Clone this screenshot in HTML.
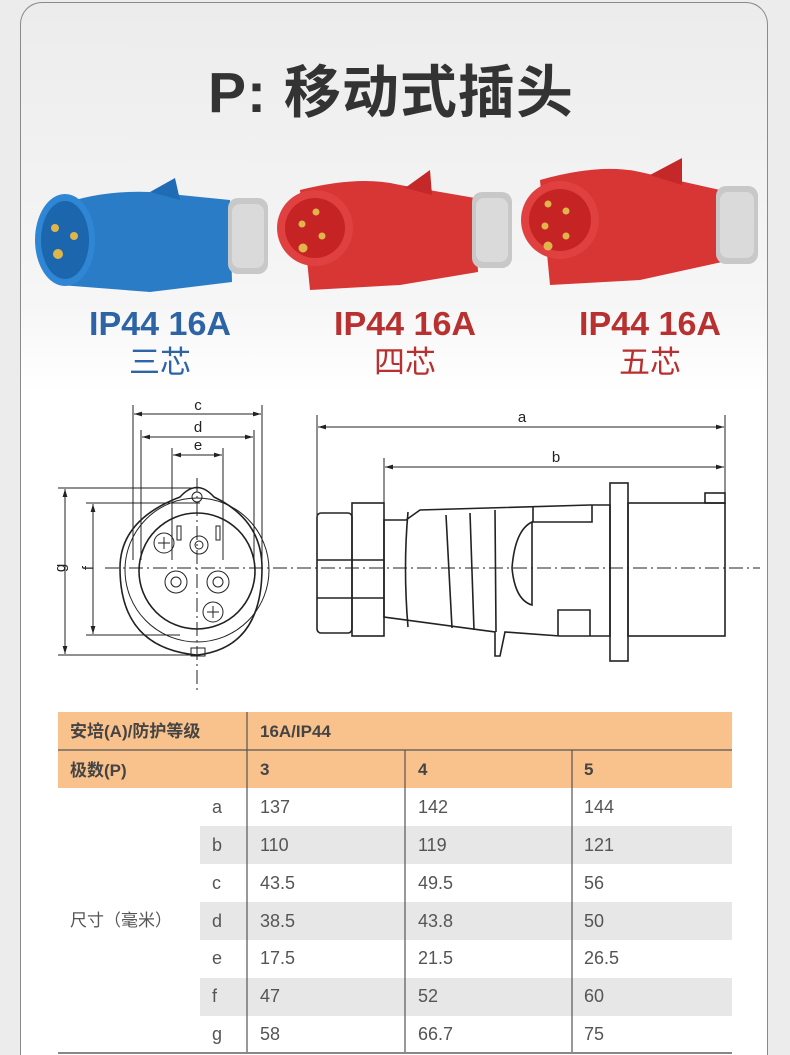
<!DOCTYPE html>
<html><head><meta charset="utf-8"><style>
html,body{margin:0;padding:0;background:#ececec;height:1055px;overflow:hidden;}
body{width:790px;height:1055px;position:relative;overflow:hidden;font-family:"Liberation Sans","Noto Sans CJK SC",sans-serif;}
.card{position:absolute;left:20px;top:2px;width:748px;height:1053px;border:1.5px solid #8a8a8a;border-bottom:none;border-radius:22px 22px 0 0;background:linear-gradient(#ececec 0px,#f6f6f6 300px,#fff 390px,#fff);box-sizing:border-box;}
.t{position:absolute;white-space:nowrap;}
</style></head><body>
<div class="card"></div>
<div class="t" style="left:208px;top:58px;font-size:57px;font-weight:bold;color:#333;letter-spacing:1px;line-height:70px;">P: 移动式插头</div>
<svg width="790" height="1055" style="position:absolute;left:0;top:0" font-family="Liberation Sans, Noto Sans CJK SC, sans-serif">
<g>
<path d="M60 205 Q100 190 150 192 L230 200 L232 282 L150 292 L60 285 Z" fill="#2a7cc7"/>
<path d="M150 192 L175 178 L180 200 Z" fill="#1f6cb5"/>
<rect x="228" y="198" width="40" height="76" rx="10" fill="#c8c8c8"/>
<rect x="232" y="204" width="32" height="64" rx="8" fill="#dadada"/>
<ellipse cx="65" cy="240" rx="30" ry="46" fill="#2e86d4"/>
<ellipse cx="65" cy="240" rx="24" ry="39" fill="#1b66ad"/>
<circle cx="55" cy="228" r="4" fill="#e0b64a"/><circle cx="74" cy="236" r="4" fill="#e0b64a"/><circle cx="58" cy="254" r="5" fill="#e0b64a"/>
</g>
<g>
<path d="M300 190 Q360 175 400 185 L475 198 L478 272 L400 285 L310 290 Z" fill="#d83535"/>
<path d="M405 188 L430 170 L432 195 Z" fill="#c42828"/>
<rect x="472" y="192" width="40" height="76" rx="10" fill="#c8c8c8"/>
<rect x="476" y="198" width="32" height="64" rx="8" fill="#dadada"/>
<circle cx="315" cy="228" r="38" fill="#e04040"/>
<circle cx="315" cy="228" r="30" fill="#c62424"/>
<circle cx="316" cy="212" r="3.5" fill="#e0b64a"/><circle cx="302" cy="224" r="3.5" fill="#e0b64a"/><circle cx="322" cy="236" r="3.5" fill="#e0b64a"/><circle cx="303" cy="248" r="4.5" fill="#e0b64a"/>
</g>
<g>
<path d="M540 180 Q600 163 640 172 L720 190 L722 262 L640 280 L550 285 Z" fill="#d83535"/>
<path d="M650 175 L682 158 L682 185 Z" fill="#c42828"/>
<rect x="716" y="186" width="42" height="78" rx="10" fill="#c8c8c8"/>
<rect x="720" y="192" width="34" height="66" rx="8" fill="#dadada"/>
<circle cx="560" cy="220" r="39" fill="#e04040"/>
<circle cx="560" cy="220" r="31" fill="#c62424"/>
<circle cx="548" cy="204" r="3.5" fill="#e0b64a"/><circle cx="566" cy="211" r="3.5" fill="#e0b64a"/><circle cx="545" cy="226" r="3.5" fill="#e0b64a"/><circle cx="566" cy="236" r="3.5" fill="#e0b64a"/><circle cx="548" cy="246" r="4.5" fill="#e0b64a"/>
</g>
<g font-size="33" text-anchor="middle" font-weight="bold">
<text x="160" y="335" fill="#2d64a6" textLength="142" lengthAdjust="spacingAndGlyphs">IP44 16A</text>
<text x="405" y="335" fill="#b8302f" textLength="142" lengthAdjust="spacingAndGlyphs">IP44 16A</text>
<text x="650" y="335" fill="#b8302f" textLength="142" lengthAdjust="spacingAndGlyphs">IP44 16A</text>
</g>
<g font-size="31" text-anchor="middle">
<text x="160" y="373" fill="#2d64a6">三芯</text>
<text x="405" y="373" fill="#b8302f">四芯</text>
<text x="650" y="373" fill="#b8302f">五芯</text>
</g>
<defs><marker id="ar" viewBox="0 0 10 6" refX="10" refY="3" markerWidth="8" markerHeight="5" orient="auto-start-reverse"><path d="M0 0 L10 3 L0 6 Z" fill="#222"/></marker></defs>
<g stroke="#222" fill="none" stroke-width="1">
<line x1="133" y1="405" x2="133" y2="560"/><line x1="262" y1="405" x2="262" y2="560"/>
<line x1="141" y1="430" x2="141" y2="560"/><line x1="254" y1="430" x2="254" y2="560"/>
<line x1="172" y1="448" x2="172" y2="560"/><line x1="223" y1="448" x2="223" y2="560"/>
<line x1="134" y1="414" x2="261" y2="414" marker-start="url(#ar)" marker-end="url(#ar)"/>
<line x1="142" y1="437" x2="253" y2="437" marker-start="url(#ar)" marker-end="url(#ar)"/>
<line x1="173" y1="455" x2="222" y2="455" marker-start="url(#ar)" marker-end="url(#ar)"/>
<line x1="317" y1="415" x2="317" y2="520"/><line x1="725" y1="415" x2="725" y2="505"/>
<line x1="384" y1="458" x2="384" y2="505"/>
<line x1="318" y1="427" x2="724" y2="427" marker-start="url(#ar)" marker-end="url(#ar)"/>
<line x1="385" y1="467" x2="724" y2="467" marker-start="url(#ar)" marker-end="url(#ar)"/>
<line x1="58" y1="488" x2="200" y2="488"/><line x1="58" y1="655" x2="200" y2="655"/>
<line x1="86" y1="503" x2="200" y2="503"/><line x1="86" y1="635" x2="180" y2="635"/>
<line x1="65" y1="489" x2="65" y2="654" marker-start="url(#ar)" marker-end="url(#ar)"/>
<line x1="93" y1="504" x2="93" y2="634" marker-start="url(#ar)" marker-end="url(#ar)"/>
<line x1="105" y1="568" x2="760" y2="568" stroke-dasharray="14 4 2 4"/>
<line x1="197" y1="478" x2="197" y2="690" stroke-dasharray="14 4 2 4"/>
<path d="M180 497 Q197 478 214 497 Q262 520 262 568 Q262 648 197 655 Q120 648 120 568 Q120 520 180 497 Z" stroke-width="1.6"/>
<circle cx="197" cy="570" r="72"/>
<circle cx="197" cy="571" r="58" stroke-width="1.6"/>
<circle cx="197" cy="497" r="5"/>
<circle cx="164" cy="543" r="10"/><path d="M158 543h12M164 537v12"/>
<circle cx="199" cy="545" r="9"/><circle cx="199" cy="545" r="4"/>
<circle cx="176" cy="582" r="11"/><circle cx="176" cy="582" r="5"/>
<circle cx="218" cy="582" r="11"/><circle cx="218" cy="582" r="5"/>
<circle cx="213" cy="612" r="10"/><path d="M207 612h12M213 606v12"/>
<rect x="177" y="526" width="4" height="14"/><rect x="216" y="526" width="4" height="14"/>
<rect x="191" y="648" width="14" height="8"/>
<g stroke-width="1.6">
<rect x="317" y="513" width="35" height="120" rx="4"/>
<rect x="352" y="503" width="32" height="133"/>
<line x1="317" y1="560" x2="384" y2="560"/><line x1="317" y1="598" x2="384" y2="598"/>
<path d="M384 520 L406 520 L420 510 L590 505 L610 505 L610 636 L560 636 L505 632 L500 656 L495 656 L495 632 L384 617 Z"/>
<path d="M408 512 Q403 568 408 627" />
<rect x="610" y="483" width="18" height="178"/>
<rect x="628" y="503" width="97" height="133"/>
<rect x="705" y="493" width="20" height="10"/>
<path d="M532 522 Q515 530 512 568 Q515 600 532 605 Z"/>
<path d="M558 636 L558 610 L590 610 L590 636"/>
<path d="M533 507 L533 522 L592 522 L592 505"/>
<line x1="446" y1="515" x2="452" y2="628"/><line x1="470" y1="513" x2="474" y2="630"/><line x1="495" y1="510" x2="496" y2="632"/>
</g>
</g>
<g font-size="15" fill="#222" text-anchor="middle">
<text x="198" y="410">c</text><text x="198" y="432">d</text><text x="198" y="450">e</text>
<text x="522" y="422">a</text><text x="556" y="462">b</text>
<text x="60" y="573" transform="rotate(-90 60 568)">g</text>
<text x="88" y="573" transform="rotate(-90 88 568)">f</text>
</g>
<rect x="58" y="712" width="674" height="76" fill="#f9c28c"/>
<g fill="#e7e7e7"><rect x="200" y="826" width="532" height="38"/><rect x="200" y="902" width="532" height="38"/><rect x="200" y="978" width="532" height="38"/></g>
<g stroke="#555" stroke-width="1.2">
<line x1="58" y1="750" x2="732" y2="750"/>
<line x1="247" y1="712" x2="247" y2="1053"/>
<line x1="405" y1="750" x2="405" y2="1053"/><line x1="572" y1="750" x2="572" y2="1053"/>
<line x1="58" y1="1053" x2="732" y2="1053" stroke-width="2" stroke="#888"/>
</g>
<g font-size="17" font-weight="bold" fill="#444">
<text x="70" y="737">安培(A)/防护等级</text><text x="260" y="737">16A/IP44</text>
<text x="70" y="776">极数(P)</text><text x="260" y="775">3</text><text x="418" y="775">4</text><text x="584" y="775">5</text>
</g>
<g font-size="18" fill="#555">
<text x="70" y="926" font-size="17">尺寸（毫米）</text>
<text x="212" y="813">a</text><text x="212" y="851">b</text><text x="212" y="889">c</text><text x="212" y="927">d</text><text x="212" y="964">e</text><text x="212" y="1002">f</text><text x="212" y="1040">g</text>
<text x="260" y="813">137</text><text x="418" y="813">142</text><text x="584" y="813">144</text>
<text x="260" y="851">110</text><text x="418" y="851">119</text><text x="584" y="851">121</text>
<text x="260" y="889">43.5</text><text x="418" y="889">49.5</text><text x="584" y="889">56</text>
<text x="260" y="927">38.5</text><text x="418" y="927">43.8</text><text x="584" y="927">50</text>
<text x="260" y="964">17.5</text><text x="418" y="964">21.5</text><text x="584" y="964">26.5</text>
<text x="260" y="1002">47</text><text x="418" y="1002">52</text><text x="584" y="1002">60</text>
<text x="260" y="1040">58</text><text x="418" y="1040">66.7</text><text x="584" y="1040">75</text>
</g>
</svg>
</body></html>
